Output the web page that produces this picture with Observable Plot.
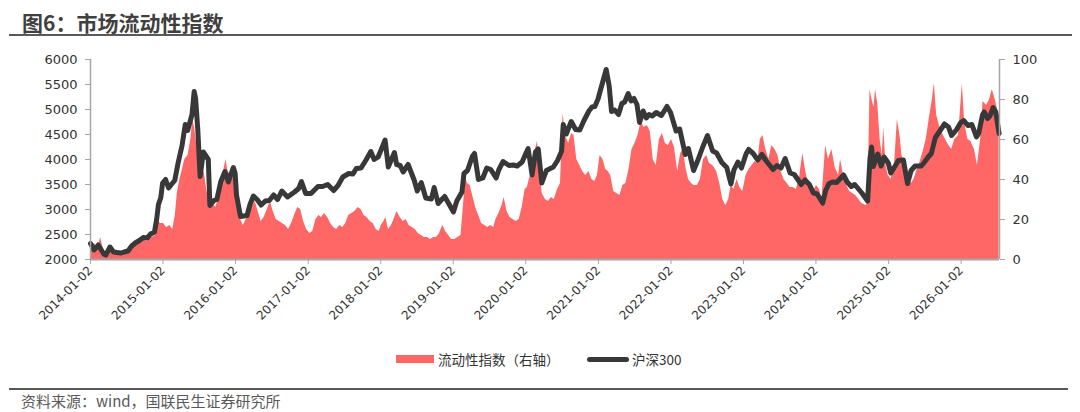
<!DOCTYPE html>
<html><head><meta charset="utf-8">
<script src="https://cdn.jsdelivr.net/npm/d3@7"></script>
<script src="https://cdn.jsdelivr.net/npm/@observablehq/plot@0.6"></script>
<style>
body{margin:0;background:#fff;}
#wrap{position:relative;width:1080px;height:412px;overflow:hidden;font-family:"Noto Sans CJK SC",sans-serif;}
#title{position:absolute;left:22px;top:8px;font-size:21px;font-weight:bold;color:#404040;line-height:28px;white-space:nowrap;}
.hline{position:absolute;left:9px;width:1063px;height:2px;background:#595959;}
#chart{position:absolute;left:0;top:0;}
.leg{position:absolute;font-size:13.5px;color:#333;line-height:18px;white-space:nowrap;}
#footer{position:absolute;left:21px;top:391px;font-size:15px;color:#595959;line-height:19px;white-space:nowrap;}
g[aria-label="x-axis tick label"]{font-size:12px;}
</style>
</head><body>
<div id="wrap">
  <div id="title">图6：市场流动性指数</div>
  <div class="hline" style="top:34px"></div>
  <div id="chart"></div>
  <div style="position:absolute;left:396px;top:355px;width:38px;height:8px;background:#ff6666;"></div>
  <div class="leg" style="left:438px;top:350px;">流动性指数（右轴）</div>
  <div style="position:absolute;left:587px;top:357px;width:42px;height:5px;border-radius:3px;background:#383838;"></div>
  <div class="leg" style="left:632px;top:350px;">沪深300</div>
  <div class="hline" style="top:388px;width:1059px"></div>
  <div id="footer">资料来源：wind，国联民生证券研究所</div>
</div>
<script>
// ---- data ----
const xTickLabels = ["2014-01-02","2015-01-02","2016-01-02","2017-01-02","2018-01-02","2019-01-02","2020-01-02","2021-01-02","2022-01-02","2023-01-02","2024-01-02","2025-01-02","2026-01-02"];
const leftTicks = [2000,2500,3000,3500,4000,4500,5000,5500,6000];
const rightTicks = [0,20,40,60,80,100];
const xDomain = ["2014-01-02","2026-07-14"];

// 沪深300 (left axis)
const hs300 = [
["2014-01-02",2320],["2014-01-20",2190],["2014-02-10",2290],["2014-02-24",2200],["2014-03-10",2110],["2014-03-20",2090],
["2014-04-10",2250],["2014-04-28",2150],["2014-05-15",2140],["2014-06-05",2130],["2014-06-20",2150],["2014-07-10",2170],
["2014-07-28",2270],["2014-08-15",2330],["2014-09-05",2380],["2014-09-25",2440],["2014-10-15",2430],["2014-10-31",2510],
["2014-11-20",2550],["2014-12-01",2800],["2014-12-10",3100],["2014-12-22",3240],["2014-12-31",3530],
["2015-01-15",3600],["2015-01-30",3430],["2015-02-15",3510],["2015-03-02",3580],["2015-03-20",3950],["2015-04-08",4280],
["2015-04-24",4700],["2015-05-06",4580],["2015-05-28",4900],["2015-06-08",5360],["2015-06-15",5220],["2015-06-26",4600],
["2015-07-08",3660],["2015-07-24",4150],["2015-08-18",4000],["2015-08-26",3080],["2015-09-15",3180],["2015-09-30",3200],
["2015-10-20",3560],["2015-11-10",3760],["2015-11-27",3550],["2015-12-22",3840],["2015-12-31",3730],
["2016-01-07",3290],["2016-01-27",2860],["2016-02-29",2880],["2016-03-15",3100],["2016-04-01",3270],["2016-04-20",3200],
["2016-05-10",3090],["2016-05-31",3170],["2016-06-20",3180],["2016-07-12",3290],["2016-08-01",3200],["2016-08-22",3370],
["2016-09-20",3250],["2016-10-25",3350],["2016-11-15",3420],["2016-11-29",3560],["2016-12-20",3320],
["2017-01-16",3320],["2017-02-20",3460],["2017-03-15",3460],["2017-04-10",3500],["2017-05-10",3380],["2017-06-01",3480],
["2017-06-25",3650],["2017-07-25",3720],["2017-08-15",3710],["2017-09-01",3820],["2017-09-25",3830],["2017-10-20",3990],
["2017-11-13",4160],["2017-11-30",4000],["2017-12-20",4050],
["2018-01-10",4250],["2018-01-24",4390],["2018-02-09",3850],["2018-03-12",4140],["2018-03-23",3900],["2018-04-10",3880],
["2018-04-25",3750],["2018-05-20",3900],["2018-06-20",3580],["2018-07-05",3370],["2018-07-25",3540],["2018-08-17",3230],
["2018-09-14",3210],["2018-09-28",3440],["2018-10-18",3120],["2018-11-05",3200],["2018-11-20",3260],["2018-12-20",3050],
["2019-01-03",2950],["2019-01-20",3170],["2019-02-15",3350],["2019-02-25",3720],["2019-03-15",3780],["2019-04-08",4060],
["2019-04-19",4120],["2019-05-09",3600],["2019-05-31",3630],["2019-06-20",3830],["2019-07-10",3800],["2019-08-06",3630],
["2019-08-20",3800],["2019-09-10",3960],["2019-10-10",3880],["2019-10-31",3890],["2019-11-20",3870],["2019-12-15",3950],
["2019-12-31",4100],
["2020-01-14",4220],["2020-02-03",3690],["2020-02-20",4150],["2020-03-05",4210],["2020-03-23",3530],["2020-04-15",3780],
["2020-05-20",3850],["2020-06-10",3980],["2020-06-30",4160],["2020-07-09",4700],["2020-07-24",4510],["2020-08-18",4760],
["2020-09-09",4600],["2020-09-30",4590],["2020-10-20",4770],["2020-11-15",4970],["2020-12-01",5050],["2020-12-15",5060],
["2020-12-31",5210],
["2021-01-20",5500],["2021-02-10",5800],["2021-02-25",5470],["2021-03-09",4960],["2021-03-25",4990],["2021-04-13",4900],
["2021-04-30",5120],["2021-05-14",5150],["2021-06-01",5320],["2021-06-15",5170],["2021-06-30",5220],["2021-07-15",5100],
["2021-07-28",4740],["2021-08-15",4970],["2021-08-31",4830],["2021-09-14",4900],["2021-09-30",4870],["2021-10-20",4940],
["2021-11-15",4880],["2021-12-13",5060],["2021-12-31",4940],
["2022-01-28",4570],["2022-02-15",4610],["2022-03-15",4100],["2022-03-31",4220],["2022-04-26",3780],["2022-05-15",3960],
["2022-06-10",4240],["2022-07-05",4480],["2022-07-31",4170],["2022-08-20",4130],["2022-09-15",3940],["2022-10-10",3840],
["2022-10-31",3510],["2022-11-15",3790],["2022-12-05",3950],["2022-12-23",3830],
["2023-01-16",4120],["2023-01-28",4200],["2023-02-20",4120],["2023-03-15",3990],["2023-04-05",4100],["2023-04-25",3980],
["2023-05-31",3800],["2023-06-20",3880],["2023-07-10",3830],["2023-07-31",4020],["2023-08-25",3730],["2023-09-15",3700],
["2023-10-20",3500],["2023-11-08",3590],["2023-11-30",3500],["2023-12-20",3330],
["2024-01-08",3310],["2024-01-22",3220],["2024-02-05",3130],["2024-02-20",3380],["2024-03-08",3520],["2024-03-25",3550],
["2024-04-15",3540],["2024-05-20",3690],["2024-06-07",3550],["2024-06-28",3460],["2024-07-15",3500],["2024-08-01",3420],
["2024-08-20",3330],["2024-09-18",3170],["2024-09-30",4020],["2024-10-08",4250],["2024-10-17",3860],["2024-11-08",4110],
["2024-11-25",3870],["2024-12-10",4050],["2024-12-31",3930],
["2025-01-13",3730],["2025-01-27",3820],["2025-02-20",3980],["2025-03-17",3990],["2025-04-07",3520],["2025-04-25",3780],
["2025-05-15",3870],["2025-06-15",3870],["2025-06-30",3940],["2025-07-20",4050],["2025-08-05",4120],["2025-08-25",4440],
["2025-09-15",4560],["2025-10-10",4710],["2025-10-30",4650],["2025-11-15",4480],["2025-12-10",4600],["2025-12-31",4740],
["2026-01-15",4780],["2026-02-05",4680],["2026-02-25",4700],["2026-03-20",4450],["2026-03-31",4520],["2026-04-20",4900],
["2026-04-28",4950],["2026-05-15",4820],["2026-05-28",4880],["2026-06-12",5040],["2026-06-25",4950],["2026-07-12",4520]
];

// 流动性指数 (right axis)
const liquidity = [
["2014-01-02",5],["2014-01-20",8],["2014-02-10",6],["2014-02-22",11],["2014-03-10",4],["2014-03-25",3],["2014-04-15",5],
["2014-05-05",3],["2014-05-25",4],["2014-06-15",3],["2014-07-05",5],["2014-07-25",7],["2014-08-15",9],["2014-09-05",8],
["2014-09-25",10],["2014-10-15",9],["2014-11-05",11],["2014-11-25",12],["2014-12-05",20],["2014-12-20",18],
["2015-01-05",18],["2015-01-20",16],["2015-02-05",17],["2015-02-20",15],["2015-03-05",22],["2015-03-15",33],["2015-03-28",40],
["2015-04-10",45],["2015-04-22",50],["2015-05-08",52],["2015-05-22",60],["2015-06-01",70],["2015-06-10",66],["2015-06-20",58],
["2015-07-01",54],["2015-07-15",40],["2015-07-28",44],["2015-08-10",35],["2015-08-25",27],["2015-09-10",28],["2015-09-25",26],
["2015-10-10",31],["2015-10-25",36],["2015-11-05",45],["2015-11-15",50],["2015-11-25",44],["2015-12-10",42],["2015-12-25",40],
["2016-01-05",38],["2016-01-15",28],["2016-01-28",20],["2016-02-10",17],["2016-02-25",20],["2016-03-10",22],["2016-03-25",26],
["2016-04-10",29],["2016-04-25",24],["2016-05-10",19],["2016-05-25",21],["2016-06-10",25],["2016-06-25",29],["2016-07-10",24],
["2016-07-25",20],["2016-08-10",19],["2016-08-25",18],["2016-09-10",17],["2016-09-25",15],["2016-10-10",18],["2016-10-25",22],
["2016-11-10",26],["2016-11-25",25],["2016-12-10",19],["2016-12-25",15],
["2017-01-10",13],["2017-01-25",14],["2017-02-10",20],["2017-02-25",22],["2017-03-10",21],["2017-03-25",23],["2017-04-10",21],
["2017-04-25",18],["2017-05-10",16],["2017-05-25",15],["2017-06-10",17],["2017-06-25",16],["2017-07-10",18],["2017-07-25",22],
["2017-08-10",23],["2017-08-25",24],["2017-09-10",26],["2017-09-25",25],["2017-10-10",22],["2017-10-25",21],["2017-11-10",19],
["2017-11-25",18],["2017-12-10",15],["2017-12-25",14],
["2018-01-05",17],["2018-01-18",19],["2018-01-28",21],["2018-02-10",15],["2018-02-25",17],["2018-03-10",20],["2018-03-25",24],
["2018-04-10",21],["2018-04-25",19],["2018-05-10",20],["2018-05-25",17],["2018-06-10",16],["2018-06-25",15],["2018-07-10",13],
["2018-07-25",12],["2018-08-10",11],["2018-08-25",11],["2018-09-10",10],["2018-09-25",11],["2018-10-10",11],["2018-10-25",13],
["2018-11-10",17],["2018-11-25",14],["2018-12-10",12],["2018-12-25",10],
["2019-01-10",10],["2019-01-25",11],["2019-02-10",12],["2019-02-25",30],["2019-03-05",41],["2019-03-15",38],["2019-03-28",37],
["2019-04-10",32],["2019-04-25",26],["2019-05-10",22],["2019-05-25",18],["2019-06-10",17],["2019-06-25",16],["2019-07-10",17],
["2019-07-25",16],["2019-08-05",20],["2019-08-20",23],["2019-09-05",27],["2019-09-15",31],["2019-09-30",24],["2019-10-15",21],
["2019-10-30",20],["2019-11-15",19],["2019-11-30",20],["2019-12-15",26],["2019-12-30",35],
["2020-01-10",36],["2020-01-20",40],["2020-02-05",45],["2020-02-20",55],["2020-03-01",59],["2020-03-10",48],["2020-03-25",33],
["2020-04-10",30],["2020-04-25",29],["2020-05-10",31],["2020-05-25",30],["2020-06-10",35],["2020-06-25",38],["2020-07-08",73],
["2020-07-20",62],["2020-08-05",58],["2020-08-20",63],["2020-09-01",62],["2020-09-15",50],["2020-09-30",47],["2020-10-15",44],
["2020-10-30",42],["2020-11-15",44],["2020-11-30",40],["2020-12-15",39],["2020-12-28",42],
["2021-01-10",52],["2021-01-25",50],["2021-02-08",45],["2021-02-20",44],["2021-03-05",42],["2021-03-20",34],["2021-04-05",33],
["2021-04-20",32],["2021-05-05",37],["2021-05-20",38],["2021-06-05",45],["2021-06-20",55],["2021-07-05",58],["2021-07-20",62],
["2021-08-05",69],["2021-08-20",66],["2021-09-05",67],["2021-09-20",64],["2021-10-05",50],["2021-10-20",47],["2021-11-05",60],
["2021-11-20",63],["2021-12-05",58],["2021-12-20",57],
["2022-01-05",60],["2022-01-20",56],["2022-02-05",44],["2022-02-20",53],["2022-03-05",55],["2022-03-20",45],["2022-04-01",40],
["2022-04-15",38],["2022-04-28",37],["2022-05-15",37],["2022-05-30",40],["2022-06-15",50],["2022-07-01",52],["2022-07-15",48],
["2022-08-01",47],["2022-08-20",44],["2022-09-05",38],["2022-09-20",30],["2022-10-05",27],["2022-10-20",30],["2022-11-01",37],
["2022-11-15",35],["2022-12-01",40],["2022-12-15",36],["2022-12-30",34],
["2023-01-15",42],["2023-01-30",45],["2023-02-15",47],["2023-03-01",49],["2023-03-15",48],["2023-03-28",60],["2023-04-10",62],
["2023-04-25",55],["2023-05-10",50],["2023-05-25",57],["2023-06-10",55],["2023-06-25",52],["2023-07-10",44],["2023-07-25",40],
["2023-08-10",38],["2023-08-25",36],["2023-09-10",36],["2023-09-25",35],["2023-10-10",40],["2023-10-28",53],["2023-11-10",45],
["2023-11-25",38],["2023-12-10",36],["2023-12-25",35],
["2024-01-05",37],["2024-01-20",35],["2024-02-01",30],["2024-02-20",57],["2024-03-05",50],["2024-03-22",55],["2024-04-08",46],
["2024-04-25",42],["2024-05-05",50],["2024-05-20",42],["2024-06-05",37],["2024-06-20",34],["2024-07-05",33],["2024-07-20",32],
["2024-08-05",30],["2024-08-20",28],["2024-09-10",27],["2024-09-20",28],["2024-09-30",85],["2024-10-10",80],["2024-10-20",76],
["2024-10-28",85],["2024-11-08",78],["2024-11-20",60],["2024-12-01",52],["2024-12-08",66],["2024-12-20",47],["2024-12-31",42],
["2025-01-15",40],["2025-02-01",48],["2025-02-15",70],["2025-02-28",62],["2025-03-10",52],["2025-03-25",47],["2025-04-08",40],
["2025-04-25",38],["2025-05-10",40],["2025-05-25",45],["2025-06-10",49],["2025-06-25",54],["2025-07-10",60],["2025-07-25",70],
["2025-08-10",80],["2025-08-20",88],["2025-09-01",72],["2025-09-20",65],["2025-10-15",60],["2025-11-01",57],["2025-11-15",55],
["2025-12-01",60],["2025-12-20",62],["2026-01-08",88],["2026-01-20",68],["2026-02-05",60],["2026-02-20",59],["2026-03-10",55],
["2026-03-25",47],["2026-04-10",60],["2026-04-22",79],["2026-05-10",77],["2026-05-25",80],["2026-06-08",85],["2026-06-22",80],
["2026-07-12",72]
];

// ---- build ----
const parse = d3.utcParse("%Y-%m-%d");
const hsData = hs300.map(([d, v]) => ({date: parse(d), v}));
const liqData = liquidity.map(([d, v]) => ({date: parse(d), v}));
const yLeft = [leftTicks[0], leftTicks[leftTicks.length - 1]];
const yRight = [rightTicks[0], rightTicks[rightTicks.length - 1]];
const toLeft = v => yLeft[0] + (v - yRight[0]) * (yLeft[1] - yLeft[0]) / (yRight[1] - yRight[0]);
const fromLeft = v => yRight[0] + (v - yLeft[0]) * (yRight[1] - yRight[0]) / (yLeft[1] - yLeft[0]);
const x0 = parse(xDomain[0]), x1 = parse(xDomain[1]);

const chart = Plot.plot({
  width: 1080,
  height: 340,
  marginTop: 59,
  marginBottom: 81,
  marginLeft: 90,
  marginRight: 81,
  style: {fontFamily: "'DejaVu Sans', sans-serif", fontSize: "13px", color: "#333", background: "transparent"},
  x: {type: "utc", domain: [x0, x1]},
  y: {domain: yLeft},
  marks: [
    Plot.areaY(liqData, {x: "date", y1: yLeft[0], y2: d => toLeft(d.v), fill: "#ff6666"}),
    Plot.lineY(hsData, {x: "date", y: "v", stroke: "#383838", strokeWidth: 5, strokeLinejoin: "round", strokeLinecap: "round"}),
    Plot.ruleX([x0, x1], {stroke: "#a6a6a6", strokeWidth: 1.5}),
    Plot.ruleY([yLeft[0]], {stroke: "#a6a6a6", strokeWidth: 2}),
    Plot.axisY(leftTicks, {anchor: "left", tickSize: 5, tickPadding: 8, stroke: "#a6a6a6", fill: "#333", label: null, tickFormat: d => String(d)}),
    Plot.axisY(rightTicks.map(toLeft), {anchor: "right", tickSize: 5, tickPadding: 8, stroke: "#a6a6a6", fill: "#333", label: null, tickFormat: d => String(Math.round(fromLeft(d)))}),
    Plot.axisX(xTickLabels.map(parse), {tickSize: 5, tickPadding: 4, tickRotate: -45, stroke: "#a6a6a6", fill: "#333", label: null, tickFormat: d3.utcFormat("%Y-%m-%d")})
  ]
});
document.getElementById("chart").appendChild(chart);
</script>
</body></html>
